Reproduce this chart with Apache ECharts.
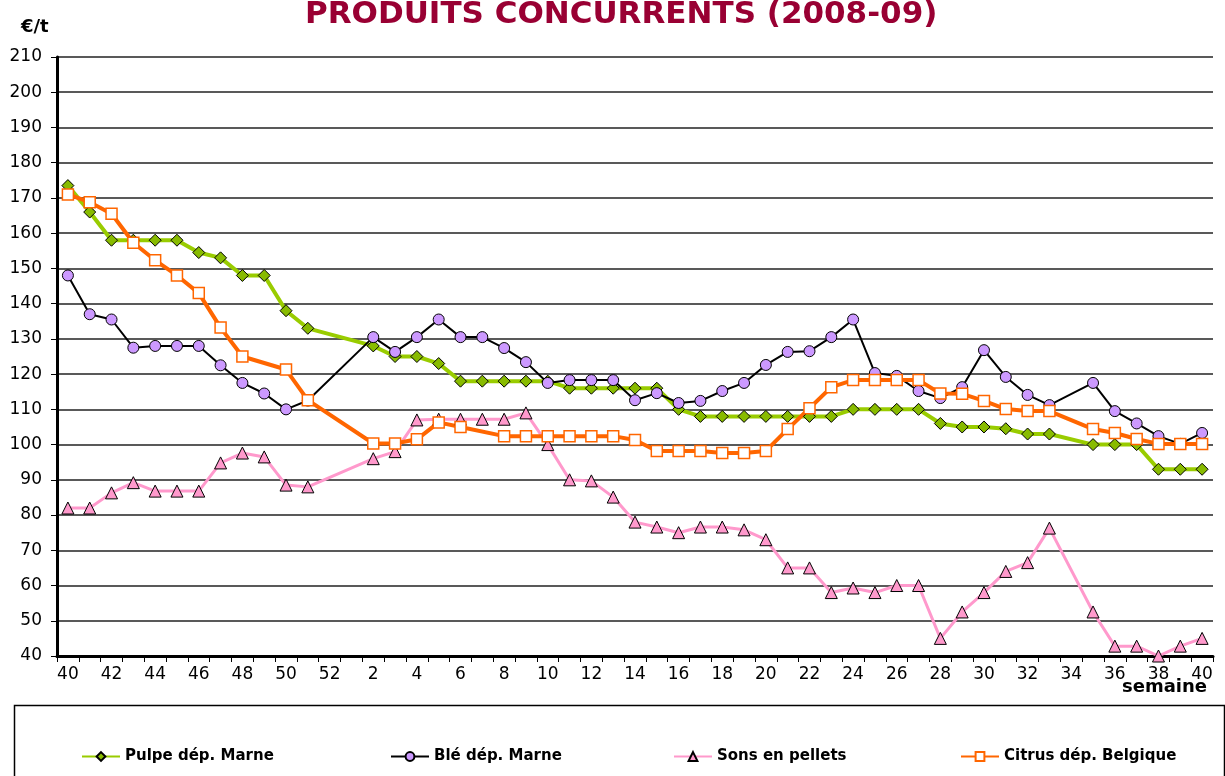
<!DOCTYPE html>
<html>
<head>
<meta charset="utf-8">
<script src="https://cdn.jsdelivr.net/npm/echarts@6/dist/echarts.min.js"></script>
<style>
  html, body { margin: 0; padding: 0; background: #fff; }
  #chart { width: 1225px; height: 776px; }
</style>
</head>
<body>
<div id="chart"></div>
<script>
// semaines 40..52 (2008) puis 1..40 (2009)
const WEEKS = [
  '40', '41', '42', '43', '44', '45', '46', '47', '48', '49', '50', '51', '52',
  '1', '2', '3', '4', '5', '6', '7', '8', '9', '10', '11', '12', '13', '14', '15',
  '16', '17', '18', '19', '20', '21', '22', '23', '24', '25', '26', '27', '28', '29',
  '30', '31', '32', '33', '34', '35', '36', '37', '38', '39', '40'
];

const PULPE = [
  173.5, 166, 158, 158, 158, 158, 154.5, 153, 148, 148, 138, 133, null,
  null, 128, 125, 125, 123, 118, 118, 118, 118, 118, 116, 116, 116, 116, 116,
  110, 108, 108, 108, 108, 108, 108, 108, 110, 110, 110, 110, 106, 105,
  105, 104.5, 103, 103, null, 100, 100, 100, 93, 93, 93
];

const BLE = [
  148, 137, 135.5, 127.5, 128, 128, 128, 122.5, 117.5, 114.5, 110, 112.5, null,
  null, 130.5, 126.3, 130.5, 135.5, 130.5, 130.5, 127.4, 123.4, 117.5, 118.3, 118.3, 118.3, 112.6, 114.6,
  111.8, 112.4, 115.2, 117.5, 122.6, 126.3, 126.5, 130.5, 135.5, 120.3, 119.5, 115.2, 113.2, 116.3,
  126.8, 119.2, 114.1, 111.2, null, 117.5, 109.5, 106, 102.4, 100.2, 103.3
];

const SONS = [
  82, 82, 86.3, 89.2, 86.8, 86.8, 86.8, 94.8, 97.6, 96.5, 88.5, 88, null,
  null, 96, 98, 107, 107.2, 107.2, 107.2, 107.2, 109, 100, 90, 89.7, 85.1, 78, 76.6,
  75, 76.6, 76.6, 75.8, 73, 65, 65, 58, 59.3, 58, 60, 60, 45, 52.5,
  58, 64, 66.5, 76.3, null, 52.5, 42.8, 42.8, 40, 42.8, 45
];

const CITRUS = [
  171, 168.8, 165.5, 157.3, 152.3, 148, 143, 133.2, 125, null, 121.3, 112.6, null,
  null, 100.3, 100.3, 101.5, 106.3, 105, null, 102.4, 102.4, 102.4, 102.4, 102.4, 102.4, 101.3, 98.2,
  98.2, 98.2, 97.6, 97.6, 98.2, 104.4, 110.3, 116.3, 118.3, 118.3, 118.3, 118.3, 114.5, 114.4,
  112.4, 110.1, 109.5, 109.5, null, 104.4, 103.3, 101.6, 100.2, 100.2, 100.2
];

const SERIES_META = [
  { name: 'Pulpe dép. Marne', data: PULPE, line: '#99cc00', width: 4, symbol: 'diamond', size: 12, fill: '#88bb00', border: '#000', borderWidth: 1 },
  { name: 'Blé dép. Marne', data: BLE, line: '#000000', width: 2, symbol: 'circle', size: 11, fill: '#cc99ff', border: '#000', borderWidth: 1 },
  { name: 'Sons en pellets', data: SONS, line: '#ff99cc', width: 3, symbol: 'triangle', size: 12, fill: '#ff99cc', border: '#000', borderWidth: 1 },
  { name: 'Citrus dép. Belgique', data: CITRUS, line: '#ff6600', width: 4, symbol: 'rect', size: 11, fill: '#ffffff', border: '#ff6600', borderWidth: 1.5 }
];

// position x de chaque entrée de légende
const LEGEND_LEFT = [76, 385, 668, 955];

const FONT = '"DejaVu Sans", Verdana, sans-serif';

function buildOption() {
  const series = SERIES_META.map((m) => ({
    name: m.name,
    type: 'line',
    data: m.data,
    connectNulls: true,
    symbol: m.symbol,
    symbolSize: m.size,
    showAllSymbol: true,
    lineStyle: { color: m.line, width: m.width },
    itemStyle: { color: m.fill, borderColor: m.border, borderWidth: m.borderWidth },
    emphasis: { disabled: true },
    animation: false
  }));

  const legend = SERIES_META.map((m, i) => ({
    data: [m.name],
    left: LEGEND_LEFT[i],
    top: 744,
    itemWidth: 38,
    itemHeight: 11,
    itemGap: 4,
    textStyle: { fontFamily: FONT, fontWeight: 'bold', fontSize: 15, color: '#000' },
    selectedMode: false
  }));

  return {
    backgroundColor: '#fff',
    animation: false,
    title: {
      text: 'PRODUITS CONCURRENTS (2008-09)',
      left: 300,
      top: -6,
      textStyle: { fontFamily: FONT, fontWeight: 'bold', fontSize: 31, color: '#990033' }
    },
    graphic: [
      {
        type: 'text', left: 21, top: 18,
        style: { text: '€/t', font: 'bold 18px ' + FONT, fill: '#000' }
      },
      {
        type: 'text', right: 18, top: 678,
        style: { text: 'semaine', font: 'bold 18px ' + FONT, fill: '#000' }
      },
      {
        type: 'rect', left: 12, top: 703,
        shape: { width: 1210, height: 80 },
        style: { fill: 'none', stroke: '#000', lineWidth: 1.5 }
      }
    ],
    legend,
    grid: { left: 57, right: 12, top: 57, bottom: 120 },
    xAxis: {
      type: 'category',
      data: WEEKS,
      boundaryGap: true,
      axisLine: { lineStyle: { color: '#000', width: 3 } },
      axisTick: { show: true, interval: 0, length: 6, lineStyle: { color: '#000', width: 1 } },
      axisLabel: { interval: 1, color: '#000', fontFamily: FONT, fontSize: 17, margin: 10 },
      splitLine: { show: false }
    },
    yAxis: {
      type: 'value',
      min: 40,
      max: 210,
      interval: 10,
      axisLine: { show: true, lineStyle: { color: '#000', width: 3 } },
      axisTick: { show: true, length: 6, lineStyle: { color: '#000', width: 1 } },
      axisLabel: { color: '#000', fontFamily: FONT, fontSize: 17, margin: 15 },
      splitLine: { lineStyle: { color: '#222', width: 1.5 } }
    },
    series
  };
}

const chart = echarts.init(document.getElementById('chart'), null, { renderer: 'canvas' });
chart.setOption(buildOption());
</script>
</body>
</html>
